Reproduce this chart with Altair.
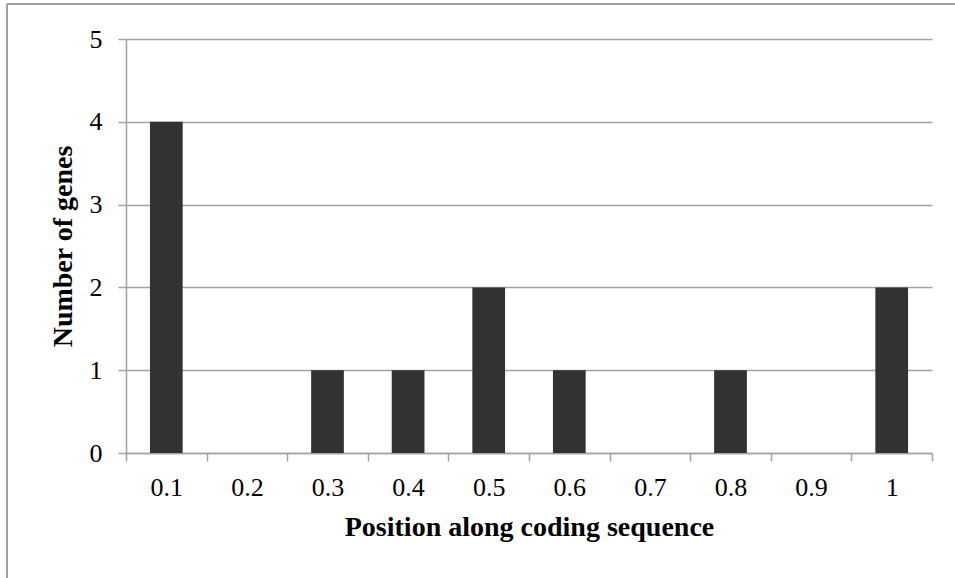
import altair as alt
import pandas as pd

# Histogram of gene positions along the coding sequence
positions = [0.1, 0.2, 0.3, 0.4, 0.5, 0.6, 0.7, 0.8, 0.9, 1.0]
gene_counts = [4, 0, 1, 1, 2, 1, 0, 1, 0, 2]
bin_edges = [0.05, 0.15, 0.25, 0.35, 0.45, 0.55, 0.65, 0.75, 0.85, 0.95, 1.05]
count_ticks = [0, 1, 2, 3, 4, 5]

df = pd.DataFrame({"position": positions, "count": gene_counts})

FONT = "Liberation Serif"
GRID = "#a3a3a3"
W, H = 806, 414
PAD = {"left": 126, "top": 39, "right": 23, "bottom": 125}

x_scale = alt.Scale(domain=[0.05, 1.05], nice=False, zero=False, padding=0)
y_scale = alt.Scale(domain=[0, 5], nice=False, padding=0)

bars = (
    alt.Chart(df)
    .transform_calculate(lo="datum.position - 0.0203", hi="datum.position + 0.0203")
    .mark_rect(color="#323232")
    .encode(
        x=alt.X(
            "lo:Q",
            scale=x_scale,
            axis=alt.Axis(
                values=bin_edges,
                title="Position along coding sequence",
                labelExpr="datum.value > 1.0 ? '' : format(datum.value + 0.05, '.1~f')",
                labelOffset=40.3,
                labelFlush=False,
                labelOverlap=False,
                labelBound=False,
                labelFont=FONT,
                labelFontSize=26,
                labelColor="#000000",
                labelPadding=13,
                tickSize=8,
                tickColor=GRID,
                tickWidth=1.5,
                domainColor=GRID,
                domainWidth=1.5,
                grid=False,
                titleFont=FONT,
                titleFontSize=28,
                titleFontWeight="bold",
                titleColor="#000000",
                titlePadding=13,
            ),
        ),
        x2="hi:Q",
        y=alt.Y(
            "count:Q",
            scale=y_scale,
            axis=alt.Axis(
                values=count_ticks,
                title="Number of genes",
                format="d",
                labelFont=FONT,
                labelFontSize=26,
                labelColor="#000000",
                labelPadding=16,
                labelFlush=False,
                tickSize=8,
                tickColor=GRID,
                tickWidth=1.5,
                domainColor=GRID,
                domainWidth=1.5,
                grid=True,
                gridColor=GRID,
                gridWidth=1.5,
                titleFont=FONT,
                titleFontSize=28,
                titleFontWeight="bold",
                titleColor="#000000",
                titlePadding=12,
            ),
        ),
        y2=alt.Y2(datum=0),
    )
)

# Outer chart border (left and top edges)
frame_data = alt.Data(values=[{"k": 0}])
frame_left = alt.Chart(frame_data).mark_rule(color="#a0a0a0", strokeWidth=2).encode(
    x=alt.value(7 - PAD["left"]),
    y=alt.value(4 - PAD["top"]),
    y2=alt.value(578 - PAD["top"]),
)
frame_top = alt.Chart(frame_data).mark_rule(color="#a0a0a0", strokeWidth=2).encode(
    x=alt.value(7 - PAD["left"]),
    x2=alt.value(955 - PAD["left"]),
    y=alt.value(4 - PAD["top"]),
)

chart = (
    alt.layer(bars, frame_left, frame_top)
    .properties(
        width=W,
        height=H,
        autosize=alt.AutoSizeParams(type="none"),
        padding=PAD,
        background="#ffffff",
    )
    .configure_view(stroke=None)
)

chart.save("out.html", embed_options={"renderer": "svg", "actions": False})
